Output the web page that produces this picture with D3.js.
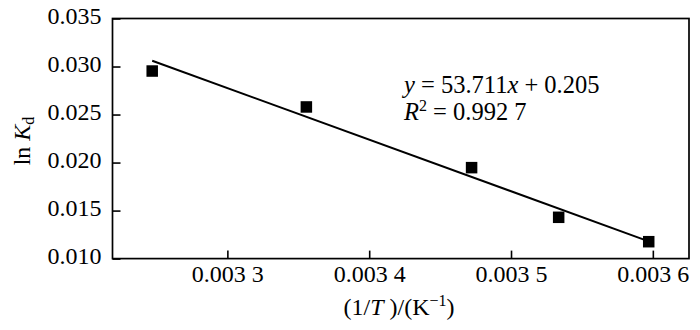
<!DOCTYPE html>
<html>
<head>
<meta charset="utf-8">
<script src="https://cdn.jsdelivr.net/npm/d3@7"></script>
<style>
  html, body { margin: 0; padding: 0; background: #fff; }
  svg { display: block; font-family: "Liberation Serif", "Times New Roman", serif; }
</style>
</head>
<body>
<svg id="chart" width="700" height="330"></svg>
<script>
// Reciprocal temperature (1/T, K^-1) and ln Kd measured at each temperature
const invT = [0.003247, 0.0033557, 0.0034722, 0.0035336, 0.0035971];
const lnKd = [0.02953, 0.02579, 0.01947, 0.01430, 0.01176];

// Linear fit reported on the chart (ln Kd falls as 1/T rises)
const fitSlope = 53.711;
const fitIntercept = 0.205;
const fitR2 = "0.992 7";

// Axis ticks
const xTicks = [0.0033, 0.0034, 0.0035, 0.0036];
const yTicks = [0.010, 0.015, 0.020, 0.025, 0.030, 0.035];

const svg = d3.select("#chart");
const plotLeft = 112.5, plotRight = 689, plotTop = 18.5, plotBottom = 258.6;

const x = d3.scaleLinear().domain([0.003219, 0.0036255]).range([plotLeft, plotRight]);
const y = d3.scaleLinear().domain([0.010, 0.035]).range([plotBottom, plotTop]);

const fmtX = v => { const s = v.toFixed(4); return s.slice(0, 5) + " " + s.slice(5); };
const fmtY = v => v.toFixed(3);

// Bottom axis with inward ticks
const gx = svg.append("g").attr("transform", `translate(0,${plotBottom})`)
  .call(d3.axisBottom(x).tickValues(xTicks).tickSizeInner(-8).tickSizeOuter(0).tickFormat(fmtX));
gx.select(".domain").remove();
gx.selectAll(".tick line").attr("stroke", "#000").attr("stroke-width", 1.6);
gx.selectAll(".tick text").attr("y", 23.7).attr("dy", null)
  .attr("font-size", 24).attr("font-family", "Liberation Serif").attr("fill", "#000");

// Left axis with inward ticks
const gy = svg.append("g").attr("transform", `translate(${plotLeft},0)`)
  .call(d3.axisLeft(y).tickValues(yTicks).tickSizeInner(-8).tickSizeOuter(0).tickFormat(fmtY));
gy.select(".domain").remove();
gy.selectAll(".tick line").attr("stroke", "#000").attr("stroke-width", 1.6);
gy.selectAll(".tick text").attr("x", -11).attr("dy", null).attr("y", 4.6)
  .attr("font-size", 24).attr("font-family", "Liberation Serif").attr("fill", "#000");

// Plot frame
svg.append("rect")
  .attr("x", plotLeft).attr("y", plotTop)
  .attr("width", plotRight - plotLeft).attr("height", plotBottom - plotTop)
  .attr("fill", "none").attr("stroke", "#000").attr("stroke-width", 1.7);

// Fitted line across the measured range
const xFirst = d3.min(invT), xLast = d3.max(invT);
const fitY = v => fitIntercept - fitSlope * v;
svg.append("line")
  .attr("x1", x(xFirst)).attr("y1", y(fitY(xFirst)))
  .attr("x2", x(xLast)).attr("y2", y(fitY(xLast)))
  .attr("stroke", "#000").attr("stroke-width", 2);

// Square markers
const side = 11.5;
svg.append("g").selectAll("rect")
  .data(invT.map((v, i) => [v, lnKd[i]]))
  .join("rect")
  .attr("x", d => x(d[0]) - side / 2)
  .attr("y", d => y(d[1]) - side / 2)
  .attr("width", side).attr("height", side)
  .attr("fill", "#000");

// Fit equation and coefficient of determination
const eq = svg.append("text").attr("x", 404).attr("y", 92.5).attr("font-size", 24.5).attr("fill", "#000");
eq.append("tspan").attr("font-style", "italic").text("y");
eq.append("tspan").text(" = " + fitSlope.toFixed(3));
eq.append("tspan").attr("font-style", "italic").text("x");
eq.append("tspan").text(" + " + fitIntercept.toFixed(3));

const r2 = svg.append("text").attr("x", 404).attr("y", 120).attr("font-size", 24.5).attr("fill", "#000");
r2.append("tspan").attr("font-style", "italic").text("R");
r2.append("tspan").attr("font-size", 16).attr("dy", -9).text("2");
r2.append("tspan").attr("dy", 9).text(" = " + fitR2);

// X axis title
const xt = svg.append("text").attr("x", 399).attr("y", 315)
  .attr("text-anchor", "middle").attr("font-size", 24).attr("fill", "#000");
xt.append("tspan").text("(1/");
xt.append("tspan").attr("font-style", "italic").text("T");
xt.append("tspan").text(" )/(K");
xt.append("tspan").attr("font-size", 16).attr("dy", -9).text("\u22121");
xt.append("tspan").attr("dy", 9).text(")");

// Y axis title
const yt = svg.append("text")
  .attr("transform", "translate(30,141) rotate(-90)")
  .attr("text-anchor", "middle").attr("font-size", 24).attr("fill", "#000");
yt.append("tspan").text("ln ");
yt.append("tspan").attr("font-style", "italic").text("K");
yt.append("tspan").attr("font-size", 16).attr("dy", 4).text("d");
</script>
</body>
</html>
